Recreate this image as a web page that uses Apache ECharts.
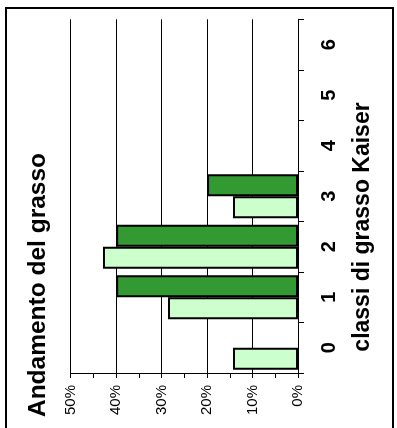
<!DOCTYPE html>
<html><head><meta charset="utf-8">
<script src="https://cdn.jsdelivr.net/npm/echarts@6/dist/echarts.min.js"></script>
<style>html,body{margin:0;padding:0;background:#fff}#c{width:397px;height:428px}</style>
</head><body><div id="c"></div>
<script>
const categories = ['0', '1', '2', '3', '4', '5', '6'];
const seriesLight = [14.3, 28.6, 42.9, 14.3, null, null, null];
const seriesDark = [null, 40, 40, 20, null, null, null];
const valueTicks = [0, 10, 20, 30, 40, 50];
const titleText = 'Andamento del grasso';
const axisTitle = 'classi di grasso Kaiser';
const FONT = '"Liberation Sans", Arial, sans-serif';

const chart = echarts.init(document.getElementById('c'), null, {renderer: 'canvas'});
chart.setOption({
  animation: false,
  backgroundColor: '#fff',
  grid: {left: 70.7, right: 99, top: 19.3, bottom: 55},
  xAxis: {
    type: 'value', inverse: true, min: valueTicks[0], max: valueTicks[valueTicks.length - 1], interval: 10,
    axisLine: {show: true, lineStyle: {color: '#000', width: 1}},
    axisTick: {show: true, length: 5, lineStyle: {color: '#000'}},
    minorTick: {show: true, splitNumber: 2, length: 5, lineStyle: {color: '#000'}},
    splitLine: {show: true, lineStyle: {color: '#000', width: 1}},
    axisLabel: {rotate: 90, margin: 12, fontFamily: FONT, fontSize: 15, color: '#000', formatter: '{value}%'}
  },
  yAxis: {
    type: 'category', data: categories, position: 'right',
    axisLine: {show: true, lineStyle: {color: '#000', width: 1}},
    axisTick: {show: true, length: 6, inside: false, lineStyle: {color: '#000'}},
    splitLine: {show: false},
    axisLabel: {rotate: 90, margin: 21, fontFamily: FONT, fontSize: 20, fontWeight: 'bold', color: '#000'}
  },
  series: [
    {type: 'bar', data: seriesDark, barGap: '0%', barCategoryGap: '13%', z: 2,
     itemStyle: {color: '#339933', borderColor: '#000', borderWidth: 2}},
    {type: 'bar', data: seriesLight, barGap: '0%', barCategoryGap: '13%', z: 2,
     itemStyle: {color: '#ccffcc', borderColor: '#000', borderWidth: 2}}
  ],
  graphic: [
    {type: 'rect', shape: {x: 6, y: 8, width: 387, height: 440}, style: {fill: 'none', stroke: '#000', lineWidth: 2}, silent: true, z: 100},
    {type: 'text', x: 38, y: 285, rotation: Math.PI / 2,
     style: {text: titleText, font: 'bold 24.5px ' + FONT, fill: '#000', align: 'center', verticalAlign: 'middle'}},
    {type: 'text', x: 363, y: 227, rotation: Math.PI / 2,
     style: {text: axisTitle, font: 'bold 23px ' + FONT, fill: '#000', align: 'center', verticalAlign: 'middle'}}
  ]
});
</script></body></html>
